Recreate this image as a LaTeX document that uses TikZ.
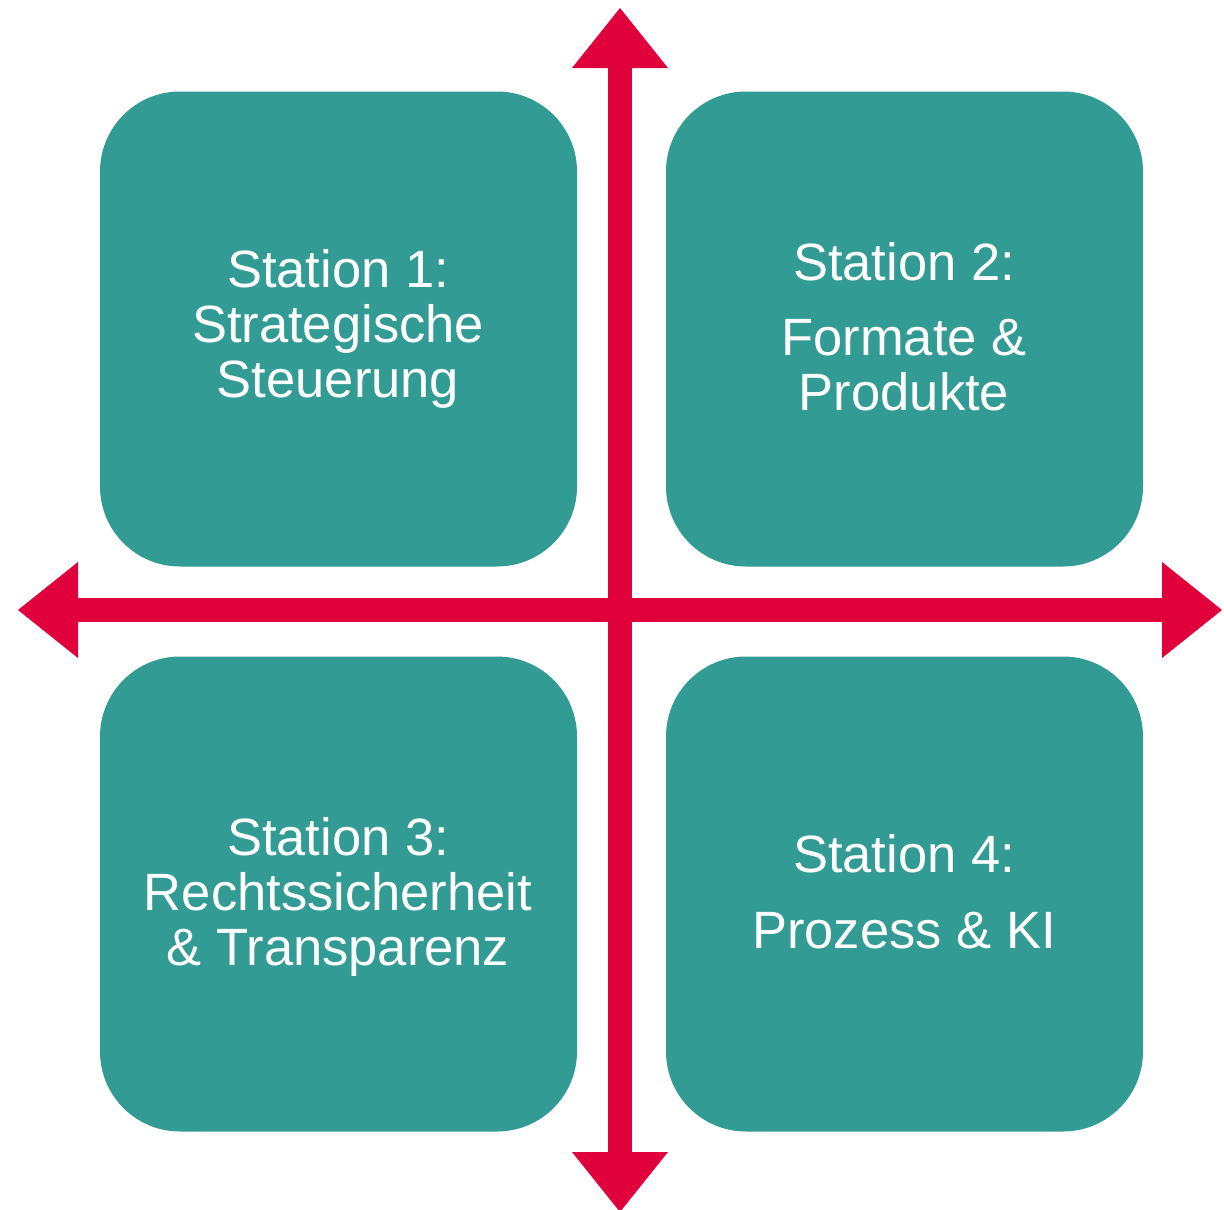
\documentclass[tikz,border=0pt]{standalone}
\usepackage{fontspec}
\setmainfont{Liberation Sans}
\usetikzlibrary{arrows.meta}
\definecolor{stationteal}{HTML}{319B94}
\definecolor{axisred}{HTML}{E0003C}
\begin{document}
\begin{tikzpicture}[x=1pt,y=-1pt,
  station/.style={fill=stationteal, draw=none, rounded corners=80pt,
    minimum width=477pt, minimum height=475pt, inner sep=0pt},
  caption/.style={text=white, anchor=base, inner sep=0pt,
    font=\fontsize{52.5}{57}\selectfont},
  axis/.style={draw=axisred, line width=24pt,
    arrows={Triangle[length=60pt,width=96pt,line width=0pt]-Triangle[length=60pt,width=96pt,line width=0pt]}}]
\useasboundingbox (0,0) rectangle (1224,1210);

% four station tiles
\node[station] (s1) at (338.5,329) {};
\node[station] (s2) at (904.5,329) {};
\node[station] (s3) at (338.5,894) {};
\node[station] (s4) at (904.5,894) {};

% tile captions
\node[caption] (s1a) at (338,287) {Station 1:};
\node[caption] (s1b) at (338,342) {Strategische};
\node[caption] (s1c) at (338,397) {Steuerung};

\node[caption] (s2a) at (904,280) {Station 2:};
\node[caption] (s2b) at (904,355) {Formate \&};
\node[caption] (s2c) at (904,410) {Produkte};

\node[caption] (s3a) at (338,855) {Station 3:};
\node[caption] (s3b) at (338,910) {Rechtssicherheit};
\node[caption] (s3c) at (338,965) {\& Transparenz};

\node[caption] (s4a) at (904,872) {Station 4:};
\node[caption] (s4b) at (904,948) {Prozess \& KI};

% crossing double-headed axes
\coordinate (up) at (620,8);
\coordinate (down) at (620,1212);
\coordinate (left) at (18,610);
\coordinate (right) at (1222,610);
\draw[axis] (up) -- (down);
\draw[axis] (left) -- (right);
\end{tikzpicture}
\end{document}
